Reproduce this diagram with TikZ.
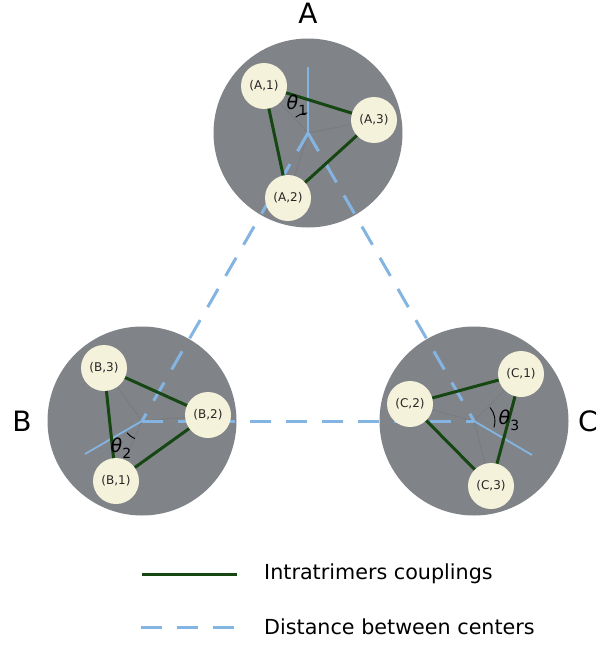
\documentclass[tikz,border=0pt]{standalone}
\usepackage{fontspec}
\setmainfont{DejaVu Sans}
\definecolor{trimergrey}{RGB}{128,132,136}
\definecolor{sitecream}{RGB}{245,242,220}
\definecolor{couplinggreen}{RGB}{22,70,18}
\definecolor{centerblue}{RGB}{132,180,226}
\pgfdeclarelayer{paper}
\pgfdeclarelayer{discs}
\pgfdeclarelayer{links}
\pgfsetlayers{paper,discs,links,main}
\newcommand\thsub[1]{\textit{θ}\raisebox{-0.6ex}{\fontsize{14}{14}\selectfont #1}}
\begin{document}
\begin{tikzpicture}[x=1pt,y=-1pt,
  trimer/.style={circle, fill=trimergrey, minimum size=189pt, inner sep=0pt},
  site/.style={circle, fill=sitecream, minimum size=46pt, inner sep=0pt,
    font=\fontsize{12}{14}\selectfont, text=black!85},
  coupling/.style={line width=3pt, draw=couplinggreen},
  centerline/.style={line width=3pt, draw=centerblue, dash pattern=on 21pt off 15pt},
  axisline/.style={line width=1.8pt, draw=centerblue},
  faint/.style={line width=1pt, draw=black, opacity=0.05},
  anglearc/.style={line width=0.9pt, draw=black},
  anglelabel/.style={font=\fontsize{19}{19}\selectfont, inner sep=0pt},
  trimerlabel/.style={font=\fontsize{28}{28}\selectfont, inner sep=0pt},
  legendtext/.style={font=\fontsize{20.7}{22}\selectfont, anchor=west, inner sep=0pt}]
\useasboundingbox (0,0) rectangle (601,645);
\begin{pgfonlayer}{paper}
\fill[white] (0,0) rectangle (601,645);
\end{pgfonlayer}

% trimer discs
\begin{pgfonlayer}{discs}
\node[trimer] (A) at (308,133) {};
\node[trimer] (B) at (142,421) {};
\node[trimer] (C) at (474,421) {};
\end{pgfonlayer}

% sites
\node[site] (a1) at (264,86) {(A,1)};
\node[site] (a2) at (288,198) {(A,2)};
\node[site] (a3) at (374,120) {(A,3)};
\node[site] (b1) at (116,481) {(B,1)};
\node[site] (b2) at (208,415) {(B,2)};
\node[site] (b3) at (104,368) {(B,3)};
\node[site] (c1) at (521,374) {(C,1)};
\node[site] (c2) at (410,404) {(C,2)};
\node[site] (c3) at (491,486) {(C,3)};

% outward axes from the centres
\coordinate (atip) at (308,67);
\coordinate (btip) at (85,454);
\coordinate (ctip) at (532,455);

\begin{pgfonlayer}{links}
% faint radii from centre to sites
\foreach \s in {a1,a2,a3} \draw[faint] (A.center) -- (\s.center);
\foreach \s in {b1,b2,b3} \draw[faint] (B.center) -- (\s.center);
\foreach \s in {c1,c2,c3} \draw[faint] (C.center) -- (\s.center);
% distances between centres
\draw[centerline] (A.center) -- (B.center);
\draw[centerline] (A.center) -- (C.center);
\draw[centerline] (B.center) -- (C.center);
\draw[axisline] (A.center) -- (atip);
\draw[axisline] (B.center) -- (btip);
\draw[axisline] (C.center) -- (ctip);
% intratrimer couplings
\draw[coupling] (a1.center) -- (a2.center) -- (a3.center) -- cycle;
\draw[coupling] (b1.center) -- (b2.center) -- (b3.center) -- cycle;
\draw[coupling] (c1.center) -- (c2.center) -- (c3.center) -- cycle;
% angle markers
\draw[anglearc] ([shift={(-92:20)}]A.center) arc[start angle=-92, end angle=-128, radius=20];
\draw[anglearc] ([shift={(142:19)}]B.center) arc[start angle=142, end angle=112, radius=19];
\draw[anglearc] ([shift={(18:21)}]C.center) arc[start angle=18, end angle=-40, radius=21];
\end{pgfonlayer}

\node[anglelabel] (t1) at (297,105) {\thsub{1}};
\node[anglelabel] (t2) at (121,448) {\thsub{2}};
\node[anglelabel] (t3) at (509,420) {\thsub{3}};

% trimer names
\node[trimerlabel] (la) at (308,13) {A};
\node[trimerlabel] (lb) at (22,421) {B};
\node[trimerlabel] (lc) at (588,421) {C};

% legend
\coordinate (g0) at (142,574);
\coordinate (g1) at (237,574);
\coordinate (d0) at (141,627);
\coordinate (d1) at (237,627);
\draw[coupling] (g0) -- (g1);
\draw[centerline] (d0) -- (d1);
\node[legendtext] (lg) at (264,574) {Intratrimers couplings};
\node[legendtext] (ld) at (264,627) {Distance between centers};
\end{tikzpicture}
\end{document}
